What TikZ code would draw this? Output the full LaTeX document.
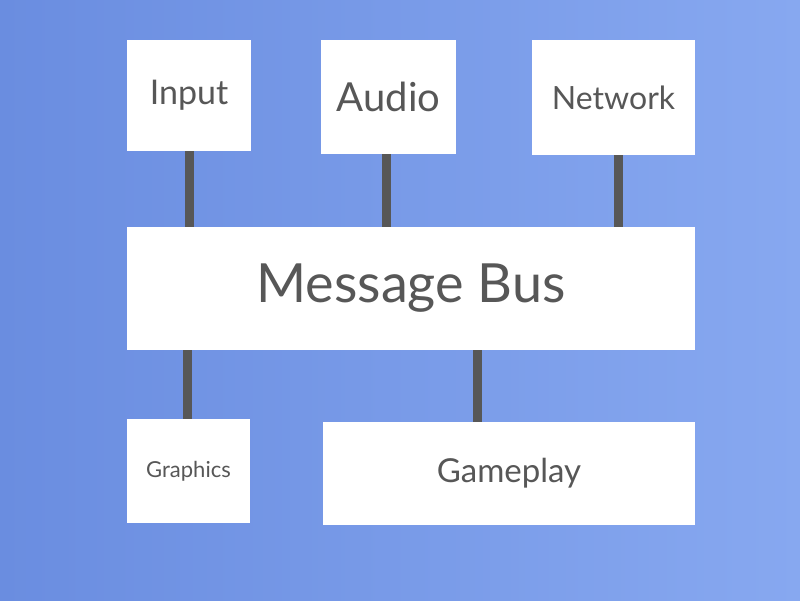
\documentclass[tikz,border=0pt]{standalone}
\usepackage{fontspec}
\setmainfont{Lato}
\definecolor{bgleft}{HTML}{6A8DE0}
\definecolor{bgright}{HTML}{87A8F0}
\definecolor{ink}{HTML}{575757}
\tikzset{box/.style={fill=white, draw=none, text=ink, inner sep=0},
         link/.style={draw=ink, line width=9pt}}
\begin{document}
\begin{tikzpicture}[x=1pt, y=-1pt]
    \shade[shading angle=60, left color=bgleft, right color=bgright] (0,0) rectangle (800,600);
    \useasboundingbox (0,0) rectangle (800,600);

    % top row
    \node(input)[box, minimum width=124, minimum height=111, font=\fontsize{34}{36}\selectfont] at (189,95.5) {Input};
    \node(audio)[box, minimum width=135, minimum height=114, font=\fontsize{40}{42}\selectfont] at (388.5,97) {Audio};
    \node(network)[box, minimum width=163, minimum height=115, font=\fontsize{32}{34}\selectfont] at (613.5,97.5) {Network};

    % bus
    \node(bus)[box, minimum width=568, minimum height=123, font=\fontsize{54}{56}\selectfont] at (411,288.5) {Message Bus};

    % bottom row
    \node(graphics)[box, minimum width=123, minimum height=104, font=\fontsize{22}{24}\selectfont] at (188.5,471) {Graphics};
    \node(gameplay)[box, minimum width=372, minimum height=103, font=\fontsize{33}{35}\selectfont] at (509,473.5) {Gameplay};

    \draw[link] (input.south -| 189,0) -- (bus.north -| 189,0);
    \draw[link] (audio.south -| 386,0) -- (bus.north -| 386,0);
    \draw[link] (network.south -| 618,0) -- (bus.north -| 618,0);
    \draw[link] (bus.south -| 187,0) -- (graphics.north -| 187,0);
    \draw[link] (bus.south -| 477,0) -- (gameplay.north -| 477,0);
\end{tikzpicture}
\end{document}
